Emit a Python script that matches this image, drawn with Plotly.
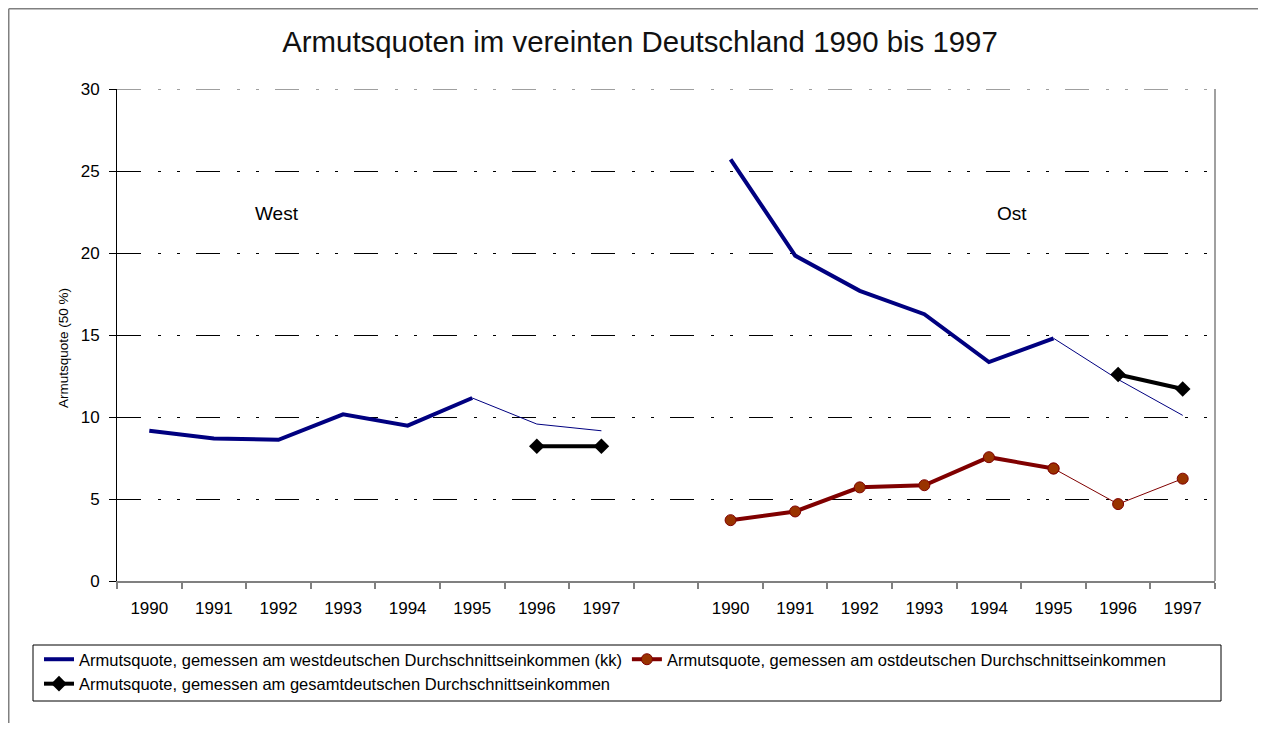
import plotly.graph_objects as go

# ---------------- data ----------------
years = ["1990", "1991", "1992", "1993", "1994", "1995", "1996", "1997"]
west_kk = [9.16, 8.69, 8.61, 10.16, 9.47, 11.16, 9.57, 9.16]
east_kk = [25.71, 19.84, 17.69, 16.27, 13.35, 14.80, 12.29, 10.10]
east_ost = [3.71, 4.24, 5.71, 5.84, 7.55, 6.86, 4.69, 6.24]
west_gesamt = [None, None, None, None, None, None, 8.22, 8.22]
east_gesamt = [None, None, None, None, None, None, 12.59, 11.71]
west_ost = [None] * 8

name_kk = "Armutsquote, gemessen am westdeutschen Durchschnittseinkommen (kk)"
name_ost = "Armutsquote, gemessen am ostdeutschen Durchschnittseinkommen"
name_ges = "Armutsquote, gemessen am gesamtdeutschen Durchschnittseinkommen"

# ---------------- layout geometry (page pixels) ----------------
OFF = 8                      # default page margin of the html body
W, H = 1266 - 2 * OFF, 731 - 2 * OFF
L, R, T, B = 117, 1215, 89, 581   # plot area in page pixels
FONT = "Liberation Sans, Arial, sans-serif"
GRIDDASH = "24px,17px,3px,16px,3px,16px"


def px_x(p):
    return (p - L) / (R - L)


def px_y(p):
    return (B - p) / (B - T)


# x positions: West block, gap, East block
xw = list(range(len(years)))
xe = [i + len(years) + 1 for i in range(len(years))]
xs = xw + [len(years)] + xe
ticktext = years + years


def seg(vals, lo, hi):
    return [v if (v is not None and lo <= i <= hi) else None for i, v in enumerate(vals)]


def combine(wv, ev):
    return wv + [None] + ev


THICK = (0, 5)
THIN = (5, 7)
LW = 4

fig = go.Figure()

navy = "#000080"
dred = "#800000"
black = "#000000"

# blue series (thick then thin)
fig.add_trace(go.Scatter(
    x=xs, y=combine(seg(west_kk, *THICK), seg(east_kk, *THICK)),
    mode="lines", line=dict(color=navy, width=LW),
    name=name_kk, showlegend=True))
fig.add_trace(go.Scatter(
    x=xs, y=combine(seg(west_kk, *THIN), seg(east_kk, *THIN)),
    mode="lines", line=dict(color=navy, width=1),
    name=name_kk, showlegend=False))

# red series
red_marker = dict(symbol="circle", size=11, color="#993300", line=dict(color="#800000", width=1))
fig.add_trace(go.Scatter(
    x=xs, y=combine(seg(west_ost, *THICK), seg(east_ost, *THICK)),
    mode="lines+markers", line=dict(color=dred, width=LW), marker=red_marker,
    name=name_ost, showlegend=True))
fig.add_trace(go.Scatter(
    x=xs, y=combine(seg(west_ost, *THIN), seg(east_ost, *THIN)),
    mode="lines+markers", line=dict(color=dred, width=1), marker=red_marker,
    name=name_ost, showlegend=False))

# black series
fig.add_trace(go.Scatter(
    x=xs, y=combine(west_gesamt, east_gesamt),
    mode="lines+markers", line=dict(color=black, width=LW),
    marker=dict(symbol="diamond", size=12, color=black),
    name=name_ges, showlegend=True))

shapes = [
    # outer chart frame: top and left edges
    dict(type="line", xref="paper", yref="paper",
         x0=px_x(OFF + 0.75), x1=px_x(1300), y0=px_y(OFF + 0.75), y1=px_y(OFF + 0.75),
         line=dict(color="#808080", width=1.5), layer="below"),
    dict(type="line", xref="paper", yref="paper",
         x0=px_x(OFF + 0.75), x1=px_x(OFF + 0.75), y0=px_y(OFF + 0.75), y1=px_y(800),
         line=dict(color="#808080", width=1.5), layer="below"),
    # plot area right border
    dict(type="line", xref="paper", yref="paper",
         x0=1, x1=1, y0=0, y1=1, line=dict(color="#808080", width=1.5), layer="below"),
    # top grid line (value 30)
    dict(type="line", xref="paper", yref="y",
         x0=0, x1=1, y0=30, y1=30, line=dict(color="#808080", width=1.5, dash=GRIDDASH),
         layer="below"),
    # legend box
    dict(type="rect", xref="paper", yref="paper",
         x0=px_x(33), x1=px_x(1221), y0=px_y(645), y1=px_y(701),
         line=dict(color="#000000", width=1), layer="below"),
]

annotations = [
    dict(text="West", x=px_x(277), y=px_y(213), xref="paper", yref="paper",
         showarrow=False, font=dict(family=FONT, size=19, color="black"),
         xanchor="center", yanchor="middle"),
    dict(text="Ost", x=px_x(1012), y=px_y(213), xref="paper", yref="paper",
         showarrow=False, font=dict(family=FONT, size=19, color="black"),
         xanchor="center", yanchor="middle"),
    dict(text="Armutsquote (50 %)", x=px_x(63), y=px_y(348), xref="paper", yref="paper",
         showarrow=False, textangle=-90, font=dict(family=FONT, size=13.5, color="black"),
         xanchor="center", yanchor="middle"),
]

fig.update_layout(
    width=W, height=H,
    margin=dict(l=L - OFF, r=W - (R - OFF), t=T - OFF, b=H - (B - OFF), autoexpand=False),
    paper_bgcolor="white", plot_bgcolor="white",
    font=dict(family=FONT, color="black"),
    title=dict(text="Armutsquoten im vereinten Deutschland 1990 bis 1997",
               x=(640 - OFF) / W, xref="container", xanchor="center",
               y=1 - (42 - OFF) / H, yref="container", yanchor="middle",
               font=dict(family=FONT, size=29.4, color="#111111")),
    showlegend=True,
    legend=dict(orientation="h", x=px_x(39), y=px_y(642), xanchor="left", yanchor="top",
                font=dict(family=FONT, size=16.5, color="black"),
                bgcolor="rgba(0,0,0,0)", borderwidth=0,
                itemsizing="trace", tracegroupgap=0, traceorder="normal"),
    shapes=shapes,
    annotations=annotations,
)

fig.update_xaxes(
    range=[-0.5, len(xs) - 0.5],
    tickmode="array", tickvals=xw + xe, ticktext=ticktext,
    showgrid=False, zeroline=False,
    showline=True, linecolor="#808080", linewidth=1.5,
    ticks="outside", ticklen=6, tickcolor="rgba(0,0,0,0)",
    ticklabelstandoff=5,
    tickfont=dict(family=FONT, size=17, color="black"),
    minor=dict(ticks="outside", ticklen=6, tick0=-0.5, dtick=1,
               tickcolor="#808080", tickwidth=1.5, showgrid=False),
)

fig.update_yaxes(
    range=[0, 30], tickmode="linear", tick0=0, dtick=5,
    showgrid=True, gridcolor="black", gridwidth=1,
    griddash=GRIDDASH,
    zeroline=False,
    showline=True, linecolor="black", linewidth=1,
    ticks="outside", ticklen=7, tickcolor="black",
    ticklabelstandoff=6,
    tickfont=dict(family=FONT, size=17, color="black"),
)

fig.write_html("out.html")
